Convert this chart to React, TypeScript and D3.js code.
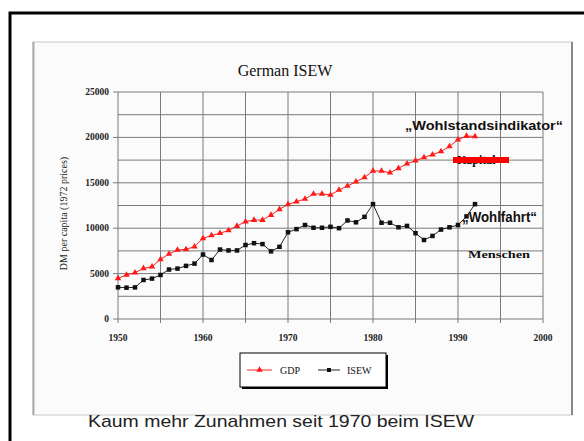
import { useEffect, useRef } from 'react'
import * as d3 from 'd3'

const years = d3.range(1950, 1993)

const gdp = [
  4480, 4850, 5100, 5580, 5760, 6570, 7160, 7600, 7670, 7970,
  8880, 9200, 9450, 9750, 10240, 10720, 10900, 10900, 11450, 12080,
  12630, 12920, 13220, 13770, 13770, 13660, 14210, 14650, 15120, 15600,
  16300, 16300, 16110, 16600, 17100, 17450, 17800, 18100, 18450, 19000,
  19750, 20150, 20100,
]

const isew = [
  3490, 3450, 3480, 4300, 4450, 4850, 5450, 5550, 5850, 6100,
  7100, 6500, 7650, 7550, 7550, 8150, 8350, 8250, 7450, 7950,
  9550, 9900, 10350, 10050, 10050, 10150, 10000, 10850, 10650, 11250,
  12650, 10600, 10600, 10100, 10250, 9450, 8700, 9150, 9850, 10100,
  10350, 11300, 12650,
]

const xTicks = [1950, 1960, 1970, 1980, 1990, 2000]
const yTicks = [0, 5000, 10000, 15000, 20000, 25000]

export default function App() {
  const svgRef = useRef<SVGSVGElement>(null)

  useEffect(() => {
    if (!svgRef.current) return
    const svg = d3.select(svgRef.current)
    svg.selectAll('*').remove()

    const serif = '"Liberation Serif", "DejaVu Serif", serif'
    const sans = '"Liberation Sans", Arial, sans-serif'

    // outer frame
    svg.append('rect')
      .attr('x', 10).attr('y', 13)
      .attr('width', 620).attr('height', 480)
      .attr('fill', '#fff')
      .attr('stroke', '#000')
      .attr('stroke-width', 3)

    // chart panel
    svg.append('rect')
      .attr('x', 33).attr('y', 42)
      .attr('width', 539).attr('height', 373)
      .attr('fill', '#fbfbfb')
      .attr('stroke', '#c8c8c8')
      .attr('stroke-width', 1)
    svg.append('line')
      .attr('x1', 33.5).attr('x2', 33.5).attr('y1', 42).attr('y2', 415)
      .attr('stroke', '#aaa').attr('stroke-width', 2)
    svg.append('line')
      .attr('x1', 572).attr('x2', 572).attr('y1', 42).attr('y2', 415)
      .attr('stroke', '#888').attr('stroke-width', 2)

    const x = d3.scaleLinear().domain([1950, 2000]).range([118, 543])
    const y = d3.scaleLinear().domain([0, 25000]).range([319, 92])

    const g = svg.append('g')

    // grid
    d3.range(1950, 2001, 5).forEach(t => {
      g.append('line')
        .attr('x1', x(t)).attr('x2', x(t))
        .attr('y1', y(25000)).attr('y2', y(0) + 4)
        .attr('stroke', '#7a7a7a').attr('stroke-width', 1)
    })
    d3.range(0, 25001, 2500).forEach(t => {
      g.append('line')
        .attr('x1', x(1950) - (t % 5000 === 0 ? 5 : 0)).attr('x2', x(2000))
        .attr('y1', y(t)).attr('y2', y(t))
        .attr('stroke', '#7a7a7a').attr('stroke-width', 1)
    })

    // tick labels
    yTicks.forEach(t => {
      g.append('text')
        .attr('x', x(1950) - 9).attr('y', y(t) + 3)
        .attr('text-anchor', 'end')
        .attr('font-family', serif).attr('font-size', 9.5).attr('font-weight', 'bold')
        .attr('fill', '#222')
        .text(t)
    })
    xTicks.forEach(t => {
      g.append('text')
        .attr('x', x(t)).attr('y', 341)
        .attr('text-anchor', 'middle')
        .attr('font-family', serif).attr('font-size', 9.5).attr('font-weight', 'bold')
        .attr('fill', '#222')
        .text(t)
    })

    g.append('text')
      .attr('transform', `translate(67,${(y(0) + y(25000)) / 2 + 8}) rotate(-90)`)
      .attr('text-anchor', 'middle')
      .attr('font-family', serif).attr('font-size', 10)
      .attr('fill', '#222')
      .text('DM per capita (1972 prices)')

    svg.append('text')
      .attr('x', 285).attr('y', 76)
      .attr('text-anchor', 'middle')
      .attr('font-family', serif).attr('font-size', 16)
      .attr('fill', '#111')
      .text('German ISEW')

    const line = d3.line<number>()
      .x((_d, i) => x(years[i]))
      .y(d => y(d))

    g.append('path').datum(gdp)
      .attr('fill', 'none').attr('stroke', '#ff2020').attr('stroke-width', 1)
      .attr('d', line)
    g.append('path').datum(isew)
      .attr('fill', 'none').attr('stroke', '#222').attr('stroke-width', 1)
      .attr('d', line)

    const tri = d3.symbol().type(d3.symbolTriangle).size(18)
    gdp.forEach((v, i) => {
      g.append('path')
        .attr('d', tri())
        .attr('transform', `translate(${x(years[i])},${y(v)})`)
        .attr('fill', '#ff1a1a')
    })
    isew.forEach((v, i) => {
      g.append('rect')
        .attr('x', x(years[i]) - 2.25).attr('y', y(v) - 2.25)
        .attr('width', 4.5).attr('height', 4.5)
        .attr('fill', '#111')
    })

    // annotations
    svg.append('text')
      .attr('x', 405).attr('y', 130)
      .attr('font-family', sans).attr('font-size', 13).attr('font-weight', 'bold')
      .attr('textLength', 158).attr('lengthAdjust', 'spacingAndGlyphs')
      .attr('fill', '#111')
      .text('\u201EWohlstandsindikator\u201C')
    svg.append('text')
      .attr('x', 457).attr('y', 164)
      .attr('font-family', serif).attr('font-size', 12).attr('font-weight', 'bold')
      .attr('fill', '#111')
      .text('Kapital')
    svg.append('rect')
      .attr('x', 453).attr('y', 157)
      .attr('width', 56).attr('height', 6)
      .attr('fill', '#ff0000')
    svg.append('text')
      .attr('x', 462).attr('y', 222)
      .attr('font-family', sans).attr('font-size', 14).attr('font-weight', 'bold')
      .attr('textLength', 75).attr('lengthAdjust', 'spacingAndGlyphs')
      .attr('fill', '#111')
      .text('\u201EWohlfahrt\u201C')
    svg.append('text')
      .attr('x', 468).attr('y', 258)
      .attr('font-family', serif).attr('font-size', 11).attr('font-weight', 'bold')
      .attr('textLength', 62).attr('lengthAdjust', 'spacingAndGlyphs')
      .attr('fill', '#111')
      .text('Menschen')

    // legend
    const lg = svg.append('g').attr('transform', 'translate(240,353)')
    lg.append('rect').attr('x', 2).attr('y', 2).attr('width', 146).attr('height', 34).attr('fill', '#000')
    lg.append('rect').attr('x', 0).attr('y', 0).attr('width', 146).attr('height', 34)
      .attr('fill', '#fff').attr('stroke', '#000').attr('stroke-width', 1)
    lg.append('line').attr('x1', 7).attr('x2', 32).attr('y1', 17).attr('y2', 17)
      .attr('stroke', '#ff2020').attr('stroke-width', 1)
    lg.append('path').attr('d', tri()).attr('transform', 'translate(19.5,17)').attr('fill', '#ff1a1a')
    lg.append('text').attr('x', 40).attr('y', 21)
      .attr('font-family', serif).attr('font-size', 10).attr('fill', '#111').text('GDP')
    lg.append('line').attr('x1', 78).attr('x2', 100).attr('y1', 17).attr('y2', 17)
      .attr('stroke', '#222').attr('stroke-width', 1)
    lg.append('rect').attr('x', 87).attr('y', 15).attr('width', 4).attr('height', 4).attr('fill', '#111')
    lg.append('text').attr('x', 107).attr('y', 21)
      .attr('font-family', serif).attr('font-size', 10).attr('fill', '#111').text('ISEW')

    // footer
    svg.append('text')
      .attr('x', 88).attr('y', 427)
      .attr('font-family', sans).attr('font-size', 17)
      .attr('textLength', 386).attr('lengthAdjust', 'spacingAndGlyphs')
      .attr('fill', '#222')
      .text('Kaum mehr Zunahmen seit 1970 beim ISEW')
  }, [])

  return (
    <svg
      ref={svgRef}
      width={584}
      height={441}
      style={{ position: 'absolute', left: 0, top: 0, background: '#fff' }}
    />
  )
}
